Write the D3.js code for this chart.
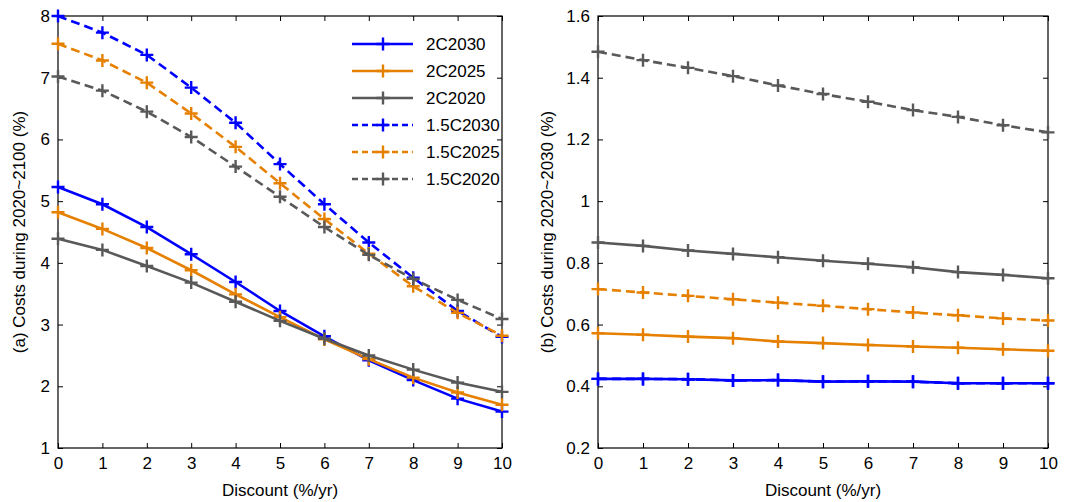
<!DOCTYPE html>
<html><head><meta charset="utf-8">
<script src="https://cdn.jsdelivr.net/npm/d3@7/dist/d3.min.js"></script>
<style>
html,body{margin:0;padding:0;background:#fff;}
text{font-family:"Liberation Sans",Arial,sans-serif;fill:#000;}
</style></head>
<body>
<svg id="chart" width="1073" height="502"></svg>
<script>
const discount = [0,1,2,3,4,5,6,7,8,9,10];
const seriesNames = ["2C2030","2C2025","2C2020","1.5C2030","1.5C2025","1.5C2020"];
const seriesColors = ["#0000ff","#e68000","#595959","#0000ff","#e68000","#595959"];
const seriesDashed = [false,false,false,true,true,true];

// Panel (a): Costs during 2020~2100 (%)
const a_2C2030  = [5.23,4.95,4.58,4.14,3.69,3.22,2.81,2.42,2.10,1.80,1.59];
const a_2C2025  = [4.82,4.55,4.24,3.88,3.49,3.12,2.76,2.44,2.14,1.90,1.70];
const a_2C2020  = [4.39,4.21,3.95,3.68,3.37,3.06,2.77,2.50,2.27,2.06,1.91];
const a_15C2030 = [8.00,7.73,7.37,6.84,6.27,5.60,4.95,4.33,3.76,3.22,2.80];
const a_15C2025 = [7.55,7.28,6.92,6.42,5.88,5.29,4.71,4.15,3.62,3.19,2.82];
const a_15C2020 = [7.02,6.79,6.45,6.04,5.56,5.07,4.58,4.13,3.74,3.40,3.09];

// Panel (b): Costs during 2020~2030 (%)
const b_2C2030  = [0.424,0.424,0.423,0.419,0.420,0.415,0.416,0.415,0.410,0.410,0.410];
const b_2C2025  = [0.572,0.567,0.561,0.556,0.545,0.540,0.534,0.529,0.525,0.520,0.515];
const b_2C2020  = [0.866,0.855,0.840,0.829,0.818,0.807,0.797,0.786,0.770,0.761,0.750];
const b_15C2030 = [0.424,0.424,0.423,0.419,0.420,0.415,0.416,0.415,0.410,0.410,0.410];
const b_15C2025 = [0.715,0.704,0.693,0.682,0.671,0.661,0.650,0.639,0.630,0.620,0.613];
const b_15C2020 = [1.484,1.457,1.432,1.405,1.375,1.347,1.322,1.295,1.273,1.246,1.223];

const xTicks = [0,1,2,3,4,5,6,7,8,9,10];
const aYTicks = [1,2,3,4,5,6,7,8];
const bYTicks = [0.2,0.4,0.6,0.8,1.0,1.2,1.4,1.6];
const bYTickLabels = ["0.2","0.4","0.6","0.8","1","1.2","1.4","1.6"];

const svg = d3.select("#chart");
const FS = 17;

function panel(cfg){
  const g = svg.append("g");
  const x = d3.scaleLinear().domain([0,10]).range([cfg.x0,cfg.x1]);
  const y = d3.scaleLinear().domain(cfg.yDomain).range([cfg.yb,cfg.yt]);
  const tl = 5;
  const ax = g.append("g").attr("transform",`translate(0,${cfg.yb})`)
    .call(d3.axisBottom(x).tickValues(xTicks).tickSizeInner(-tl).tickSizeOuter(0).tickPadding(9));
  const axT = g.append("g").attr("transform",`translate(0,${cfg.yt})`)
    .call(d3.axisTop(x).tickValues(xTicks).tickSizeInner(-tl).tickSizeOuter(0).tickFormat(""));
  const ay = g.append("g").attr("transform",`translate(${cfg.x0},0)`)
    .call(d3.axisLeft(y).tickValues(cfg.yTicks).tickSizeInner(-tl).tickSizeOuter(0).tickPadding(8)
      .tickFormat((d,i)=>cfg.yLabels[i]));
  const ayR = g.append("g").attr("transform",`translate(${cfg.x1},0)`)
    .call(d3.axisRight(y).tickValues(cfg.yTicks).tickSizeInner(-tl).tickSizeOuter(0).tickFormat(""));
  [ax,axT,ay,ayR].forEach(s=>{
    s.attr("font-size",FS).attr("font-family","'Liberation Sans',Arial,sans-serif");
    s.select(".domain").remove();
    s.selectAll(".tick line").attr("stroke","#000").attr("stroke-width",1);
    s.selectAll("text").attr("font-size",FS);
  });
  g.append("rect").attr("x",cfg.x0).attr("y",cfg.yt).attr("width",cfg.x1-cfg.x0).attr("height",cfg.yb-cfg.yt)
    .attr("fill","none").attr("stroke","#000").attr("stroke-width",1.2);

  const line = d3.line().x((d,i)=>x(discount[i])).y(d=>y(d));
  cfg.data.forEach((vals,k)=>{
    const s = g.append("g");
    s.append("path").datum(vals).attr("d",line).attr("fill","none")
      .attr("stroke",seriesColors[k]).attr("stroke-width",2.6)
      .attr("stroke-dasharray",seriesDashed[k]?"9,5":null);
    s.selectAll("path.m").data(vals).enter().append("path").attr("class","m")
      .attr("d",(d,i)=>{const cx=x(discount[i]),cy=y(d),r=6.5;return `M${cx-r},${cy}H${cx+r}M${cx},${cy-r}V${cy+r}`;})
      .attr("stroke",seriesColors[k]).attr("stroke-width",2.4).attr("fill","none");
  });

  g.append("text").attr("x",(cfg.x0+cfg.x1)/2).attr("y",496).attr("text-anchor","middle")
    .attr("font-size",FS).text("Discount (%/yr)");
  g.append("text").attr("transform",`translate(${cfg.yLabelX},${(cfg.yt+cfg.yb)/2}) rotate(-90)`)
    .attr("text-anchor","middle").attr("font-size",FS).text(cfg.yTitle);
  return {g,x,y};
}

panel({x0:58,x1:502,yt:16,yb:448,yDomain:[1,8],yTicks:aYTicks,
  yLabels:aYTicks.map(String),yTitle:"(a) Costs during 2020~2100 (%)",yLabelX:25,
  data:[a_2C2030,a_2C2025,a_2C2020,a_15C2030,a_15C2025,a_15C2020]});
panel({x0:598,x1:1048,yt:16,yb:448,yDomain:[0.2,1.6],yTicks:bYTicks,
  yLabels:bYTickLabels,yTitle:"(b) Costs during 2020~2030 (%)",yLabelX:553,
  data:[b_2C2030,b_2C2025,b_2C2020,b_15C2030,b_15C2025,b_15C2020]});

// legend (panel a)
const leg = svg.append("g");
seriesNames.forEach((n,k)=>{
  const ly = 44 + k*27;
  leg.append("line").attr("x1",352).attr("x2",413).attr("y1",ly).attr("y2",ly)
    .attr("stroke",seriesColors[k]).attr("stroke-width",2.6)
    .attr("stroke-dasharray",seriesDashed[k]?"6,4":null);
  leg.append("path").attr("d",`M${383-6.5},${ly}H${383+6.5}M383,${ly-6.5}V${ly+6.5}`)
    .attr("stroke",seriesColors[k]).attr("stroke-width",2.4);
  leg.append("text").attr("x",426).attr("y",ly+6).attr("font-size",FS).text(n);
});
</script>
</body></html>
